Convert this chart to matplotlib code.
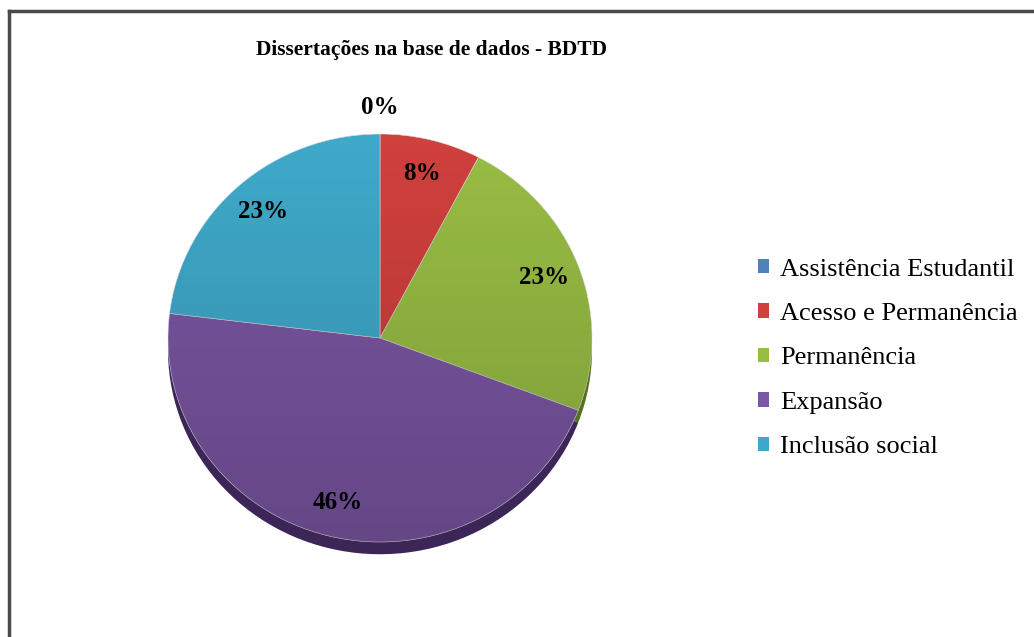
import numpy as np
import matplotlib
matplotlib.use("Agg")
import matplotlib.pyplot as plt
from matplotlib.patches import Patch, Ellipse
from matplotlib.lines import Line2D

# dados do grafico
categorias = ["Assistência Estudantil", "Acesso e Permanência", "Permanência",
              "Expansão", "Inclusão social"]
quantidade = [0, 1, 3, 6, 3]
cores = ["#4F81BD", "#D0403D", "#98BD44", "#7B56A3", "#3FA9CA"]
cores_borda = ["#2C4A70", "#7A2422", "#55701F", "#3B2657", "#1F5E72"]
titulo = "Dissertações na base de dados - BDTD"

plt.rcParams["font.family"] = ["Liberation Serif", "DejaVu Serif"]

W, H = 1034, 637
fig = plt.figure(figsize=(W / 100, H / 100), dpi=100)

# pie center and radii in pixels
cx, cy, rx, ry = 380, 338, 212, 204
lim = 1.15
ax = fig.add_axes([(cx - lim * rx) / W, 1 - (cy + lim * ry) / H,
                   2 * lim * rx / W, 2 * lim * ry / H])

# 3d rim under the pie
ax.pie(quantidade, colors=cores_borda, startangle=90, counterclock=False,
       center=(0, -0.06), radius=1, frame=True,
       wedgeprops=dict(linewidth=0))

wedges, textos, pcts = ax.pie(
    quantidade, colors=cores, startangle=90, counterclock=False,
    radius=1, frame=True, autopct="%1.0f%%", pctdistance=0.83,
    wedgeprops=dict(linewidth=0.4, edgecolor="#dddddd"),
    textprops=dict(fontsize=18, fontweight="bold", color="black"))
ax.set_xlim(-lim, lim)
ax.set_ylim(-lim, lim)
ax.set_aspect("auto")
ax.axis("off")

# light-to-dark vertical shading
grad = np.zeros((200, 2, 4))
grad[..., 3] = np.linspace(0.0, 0.18, 200)[:, None]
clip = Ellipse((0, 0), 2, 2, transform=ax.transData, facecolor="none",
               edgecolor="none")
ax.add_patch(clip)
img = ax.imshow(grad, extent=(-1, 1, -1, 1), origin="upper",
                aspect="auto", zorder=3)
img.set_clip_path(clip)
ax.set_xlim(-lim, lim)
ax.set_ylim(-lim, lim)
for t in pcts:
    t.set_zorder(5)

# zero slices get their label outside
for v, t in zip(quantidade, pcts):
    if v == 0:
        x, y = t.get_position()
        r = np.hypot(x, y)
        t.set_position((x / r * 1.13, y / r * 1.13))

fig.text(432 / W, 1 - 50 / H, titulo, ha="center", va="center",
         fontsize=15.5, fontweight="bold")

handles = [Patch(facecolor=c, edgecolor="none") for c in cores]
fig.legend(handles, categorias, loc="upper left",
           bbox_to_anchor=(747 / W, 1 - 248 / H), frameon=False,
           fontsize=19, handlelength=0.45, handleheight=0.45,
           handletextpad=0.4, labelspacing=0.85, borderaxespad=0)

# chart border (only top and left visible)
fig.add_artist(Line2D([9 / W, 9 / W], [0, 1 - 11 / H], color="#4a4a4a",
                      linewidth=2.5, transform=fig.transFigure))
fig.add_artist(Line2D([9 / W, 1], [1 - 11 / H, 1 - 11 / H], color="#4a4a4a",
                      linewidth=2.5, transform=fig.transFigure))

fig.savefig("out.png", dpi=100)
